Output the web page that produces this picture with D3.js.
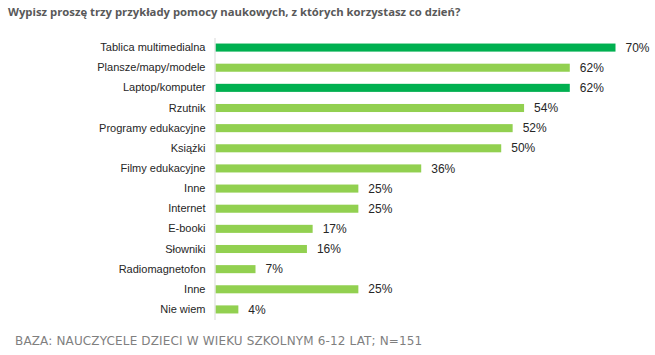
<!DOCTYPE html>
<html>
<head>
<meta charset="utf-8">
<script src="https://cdn.jsdelivr.net/npm/d3@7"></script>
<style>
  body { margin: 0; background: #fff; }
</style>
</head>
<body>
<div id="chart"></div>
<script>
const categories = [
  "Tablica multimedialna", "Plansze/mapy/modele", "Laptop/komputer", "Rzutnik",
  "Programy edukacyjne", "Książki", "Filmy edukacyjne", "Inne", "Internet",
  "E-booki", "Słowniki", "Radiomagnetofon", "Inne", "Nie wiem"
];
const values = [70, 62, 62, 54, 52, 50, 36, 25, 25, 17, 16, 7, 25, 4];
const highlighted = [true, false, true, false, false, false, false, false, false, false, false, false, false, false];
const title = "Wypisz proszę trzy przykłady pomocy naukowych, z których korzystasz co dzień?";
const footnote = "BAZA: NAUCZYCELE DZIECI W WIEKU SZKOLNYM 6-12 LAT; N=151";

const drawChart = () => {
  const width = 655;
  const height = 355;
  const margin = { top: 37.5, left: 214.5, bottom: 35, right: 41 };

  const svg = d3.select("#chart")
    .append("svg")
    .attr("width", width)
    .attr("height", height);

  const x = d3.scaleLinear().domain([0, 70]).range([0, 400]);
  const y = d3.scaleBand()
    .domain(d3.range(categories.length))
    .range([0, 282])
    .paddingInner(0.6)
    .paddingOuter(0.3);

  svg.append("text")
    .attr("x", 8)
    .attr("y", 16)
    .style("font-family", "'Open Sans', sans-serif")
    .style("font-weight", "bold")
    .style("font-size", "11.3px")
    .style("fill", "#595959")
    .text(title);

  const g = svg.append("g")
    .attr("transform", `translate(${margin.left},${margin.top})`);

  g.selectAll("rect")
    .data(values)
    .enter()
    .append("rect")
    .attr("x", 1)
    .attr("y", (d, i) => y(i))
    .attr("width", (d) => x(d))
    .attr("height", y.bandwidth())
    .style("fill", (d, i) => highlighted[i] ? "#00B050" : "#92D050");

  const yAxis = g.append("g")
    .call(d3.axisLeft(y).tickSize(0).tickPadding(9).tickFormat((i) => categories[i]));
  yAxis.select(".domain").attr("stroke", "#d9d9d9");
  yAxis.selectAll("text")
    .style("font-family", "'Liberation Sans', Arial, sans-serif")
    .style("font-size", "11px")
    .style("fill", "#262626");

  g.selectAll(".val")
    .data(values)
    .enter()
    .append("text")
    .attr("class", "val")
    .attr("x", (d) => x(d) + 11)
    .attr("y", (d, i) => y(i) + y.bandwidth() / 2)
    .attr("dy", "0.35em")
    .style("font-family", "'Liberation Sans', Arial, sans-serif")
    .style("font-size", "12px")
    .style("fill", "#262626")
    .text((d) => d + "%");

  svg.append("text")
    .attr("x", 15)
    .attr("y", 345)
    .style("font-family", "'DejaVu Sans', Tahoma, sans-serif")
    .style("font-size", "12px")
    .style("letter-spacing", "0.15px")
    .style("fill", "#7f7f7f")
    .text(footnote);
};

drawChart();
</script>
</body>
</html>
